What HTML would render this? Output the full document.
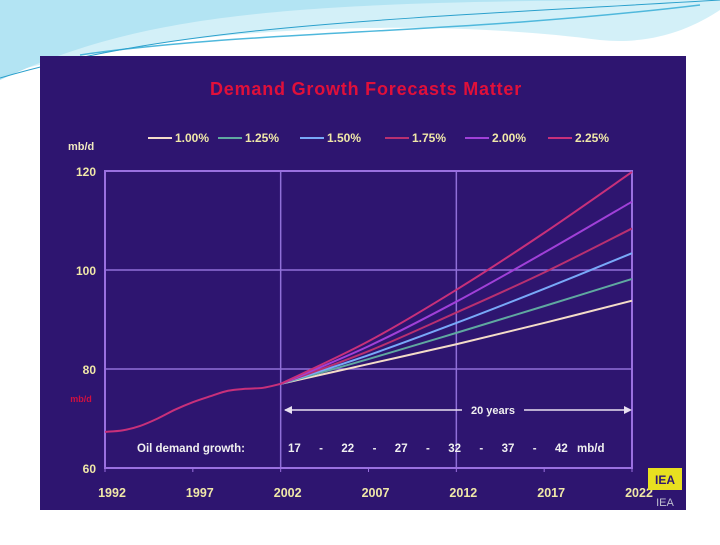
<!DOCTYPE html>
<html><head><meta charset="utf-8"><style>
body{margin:0;width:720px;height:540px;background:#fff;overflow:hidden;font-family:"Liberation Sans",sans-serif}
</style></head><body>
<svg width="720" height="540" viewBox="0 0 720 540">
<g>
<path d="M0,80 C150,10 300,0 720,0 L0,0 Z" fill="#8fd6ec" opacity="0.7"/>
<path d="M0,75 C200,20 450,20 600,40 C650,45 690,30 720,10 L720,0 L0,0 Z" fill="#b5e6f4" opacity="0.6"/>
<path d="M80,55 C250,30 450,35 700,5" stroke="#4fb8dc" stroke-width="1.5" fill="none"/>
<path d="M0,78 C180,25 380,20 720,0" stroke="#2aa0cc" stroke-width="1" fill="none"/>
</g>
<rect x="40" y="56" width="646" height="454" fill="#2e1570"/>
<text x="366" y="95" text-anchor="middle" font-size="18" font-weight="bold" letter-spacing="0.8" fill="#e0103a">Demand Growth Forecasts Matter</text>
<g id="legend"></g>
<text x="68" y="150" font-size="11" font-weight="bold" fill="#f0e8c0">mb/d</text>
<g id="plot"></g>
<text x="81" y="402" font-size="9" font-weight="bold" fill="#d01040" text-anchor="middle">mb/d</text>
<g>
<line x1="285" y1="410" x2="462" y2="410" stroke="#e8e0f0" stroke-width="1.5"/>
<line x1="524" y1="410" x2="630" y2="410" stroke="#e8e0f0" stroke-width="1.5"/>
<path d="M284,410 L292,406 L292,414 Z" fill="#e8e0f0"/>
<path d="M632,410 L624,406 L624,414 Z" fill="#e8e0f0"/>
<text x="493" y="414" text-anchor="middle" font-size="11" font-weight="bold" fill="#f0f0f0">20 years</text>
</g>
<text x="137" y="452" font-size="11.5" font-weight="bold" fill="#f0f0f0">Oil demand growth:</text>
<text x="288" y="452" font-size="11.5" font-weight="bold" fill="#f0f0f0" word-spacing="6" xml:space="preserve">17  -  22  -  27  -  32  -  37  -  42 mb/d</text>
<g>
<rect x="648" y="468" width="34" height="22" fill="#e8e020"/>
<text x="665" y="484" text-anchor="middle" font-size="12" font-weight="bold" fill="#2e1570">IEA</text>
<text x="665" y="506" text-anchor="middle" font-size="11" fill="#c0c0d0">IEA</text>
</g>
</svg>
<script>
const years=[1992,1993,1994,1995,1996,1997,1998,1999,2000,2001,2002];
const history=[67.3,67.6,68.5,70.0,71.8,73.3,74.5,75.6,76.0,76.2,77.0];
const forecastYears=[2002,2007,2012,2017,2022];
const seriesNames=["1.00%","1.25%","1.50%","1.75%","2.00%","2.25%"];
const s100=[77,81,85,89.3,93.8];
const s125=[77,82,87.3,92.7,98.2];
const s150=[77,82.8,89.3,96.2,103.4];
const s175=[77,83.6,91.4,99.5,108.4];
const s200=[77,84.6,93.6,103.5,113.8];
const s225=[77,85.6,96,107.5,119.8];
const xTicks=[1992,1997,2002,2007,2012,2017,2022];
const yTicks=[60,80,100,120];
const colors=["#f4dcc8","#5fa8a0","#78a8f8","#b83070","#a040d8","#c8307a"];
const NS="http://www.w3.org/2000/svg";
const x=v=>105+(v-1992)/30*527;
const y=v=>468-(v-60)/60*297;
function mk(t,a,p){const e=document.createElementNS(NS,t);for(const k in a)e.setAttribute(k,a[k]);p.appendChild(e);return e;}
const plot=document.getElementById('plot');
[80,100].forEach(v=>{const l=mk('line',{x1:105,x2:632,y1:y(v),y2:y(v),stroke:'#9070d8','stroke-width':1.5},plot);

});
[2002,2012].forEach(v=>{const l=mk('line',{x1:x(v),x2:x(v),y1:y(120),y2:y(60),stroke:'#9070d8','stroke-width':1.5},plot);

});
const fr=mk('rect',{x:105,y:y(120),width:527,height:297,fill:'none',stroke:'#9a70e0','stroke-width':2},plot);


yTicks.forEach(v=>{const t=mk('text',{x:96,y:y(v)+5,'text-anchor':'end','font-size':12,'font-weight':'bold',fill:'#f0e8a8'},plot);t.textContent=v;

});
xTicks.forEach(v=>{const t=mk('text',{x:x(v)+7,y:497,'text-anchor':'middle','font-size':12.5,'font-weight':'bold',fill:'#f0e8a8'},plot);t.textContent=v;


const tk=mk('line',{x1:x(v),x2:x(v),y1:y(60),y2:y(60)+4,stroke:'#9a70e0'},plot);

});
function smooth(xs,vs){let pts=xs.map((a,i)=>[x(a),y(vs[i])]);let d='M'+pts[0].join(',');
for(let i=0;i<pts.length-1;i++){const p0=pts[i-1]||pts[i],p1=pts[i],p2=pts[i+1],p3=pts[i+2]||p2;
d+=` C${p1[0]+(p2[0]-p0[0])/6},${p1[1]+(p2[1]-p0[1])/6} ${p2[0]-(p3[0]-p1[0])/6},${p2[1]-(p3[1]-p1[1])/6} ${p2[0]},${p2[1]}`;}return d;}
const all=[s100,s125,s150,s175,s200,s225];
all.forEach((s,i)=>{const p=mk('path',{d:smooth(forecastYears,s),fill:'none',stroke:colors[i],'stroke-width':2},plot);

});
const h=mk('path',{d:smooth(years,history),fill:'none',stroke:'#c8307a','stroke-width':2},plot);


const lg=document.getElementById('legend');
const lx=[148,218,300,385,465,548];
seriesNames.forEach((n,i)=>{const g=mk('g',{},lg);


mk('line',{x1:lx[i],x2:lx[i]+24,y1:138,y2:138,stroke:colors[i],'stroke-width':2},g);
const t=mk('text',{x:lx[i]+27,y:142,'font-size':12,'font-weight':'bold',fill:'#f0e8a8'},g);t.textContent=n;});
</script>
</body></html>
